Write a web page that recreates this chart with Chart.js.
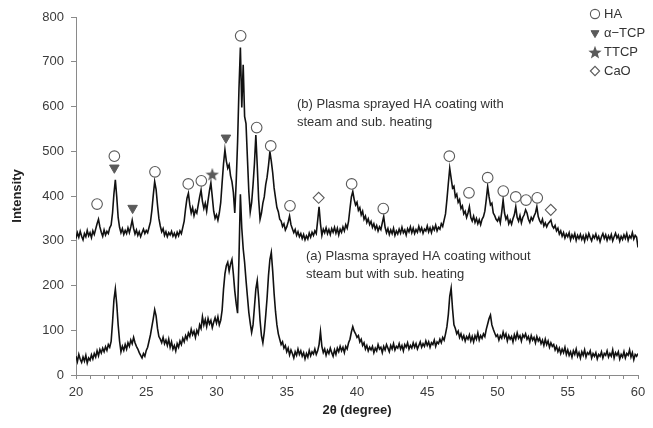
<!DOCTYPE html>
<html><head><meta charset="utf-8">
<script src="https://cdn.jsdelivr.net/npm/chart.js@4.4.1/dist/chart.umd.min.js"></script>
<style>html,body{margin:0;padding:0;background:#fff}#wrap{width:653px;height:428px}</style>
</head><body><div id="wrap"><canvas id="c" width="653" height="428"></canvas></div>
<script>
// 2θ sampling grid of both traces: 20.0 .. 60.0 degrees, 0.1 degree apart
const twoThetaStart = 20;
const twoThetaStep = 0.1;

// (b) Plasma sprayed HA coating with steam and sub. heating
const steamHeated = [
305,318,308,321,310,302,316,309,323,311, // 20
318,307,322,314,326,338,348,331,319,310, // 21
324,313,321,316,329,335,362,405,436,398, // 22
352,330,318,327,314,323,316,329,318,331, // 23
346,328,315,324,312,320,309,318,326,316, // 24
323,318,330,342,368,402,432,415,380,350, // 25
333,320,327,312,320,309,318,313,321,310, // 26
317,308,319,311,322,316,330,344,372,395, // 27
406,380,362,374,356,368,362,380,398,413, // 28
388,372,384,366,390,412,429,398,366,350, // 29
358,346,362,385,430,472,503,478,462,470, // 30
445,432,408,362,430,520,640,732,598,693, // 31
578,562,485,410,364,385,425,472,536,468, // 32
392,348,362,384,398,425,442,468,499,478, // 33
452,418,396,374,365,348,344,332,338,324, // 34
331,342,355,336,327,318,325,312,320,309, // 35
316,305,314,302,311,304,317,308,319,312, // 36
322,316,345,376,338,312,326,318,329,316, // 37
325,314,327,319,330,317,328,313,326,319, // 38
331,322,336,328,344,372,398,410,392,380, // 39
386,368,374,358,366,348,355,341,349,336, // 40
343,330,338,326,334,322,331,325,340,354, // 41
330,318,327,314,324,316,328,312,322,315, // 42
326,317,330,318,324,313,327,320,331,318, // 43
328,316,325,319,332,321,329,317,326,322, // 44
333,320,329,318,331,324,335,322,330,326, // 45
338,332,346,360,392,428,462,440,418,422, // 46
398,404,386,392,372,378,360,366,352,362, // 47
376,352,344,355,341,350,338,347,336,348, // 48
354,366,392,421,398,380,384,362,356,348, // 49
344,352,340,364,391,362,348,355,338,346, // 50
337,349,358,376,352,344,356,340,352,358, // 51
369,362,348,341,352,346,355,362,376,354, // 52
345,339,348,333,340,331,338,342,346,333, // 53
328,334,322,328,315,322,310,318,306,315, // 54
309,318,302,313,306,316,301,312,305,314, // 55
303,311,299,313,304,316,307,300,312,306, // 56
315,303,310,298,309,316,305,313,301,311, // 57
304,314,300,309,317,306,312,299,310,303, // 58
313,305,316,301,311,306,318,304,312,308, // 59
285                                      // 60
];

// (a) Plasma sprayed HA coating without steam but with sub. heating
const noSteamHeated = [
42,30,46,35,28,40,31,44,27,38,          // 20
33,45,36,48,40,54,43,57,49,60,          // 21
52,63,55,68,62,75,118,168,192,158,      // 22
112,76,52,64,55,68,58,72,64,78,         // 23
70,84,72,64,58,50,44,38,48,42,          // 24
55,62,76,90,108,126,146,132,104,86,     // 25
80,72,84,70,78,66,80,62,74,58,          // 26
66,54,70,62,76,68,82,74,88,80,          // 27
94,86,102,90,98,84,100,92,112,104,      // 28
130,112,124,108,126,114,122,106,118,128, // 29
116,130,112,122,145,192,226,244,252,232, // 30
248,258,226,188,160,138,262,404,328,282, // 31
252,212,176,140,116,95,112,152,192,211, // 32
172,122,88,72,96,132,172,222,258,274,   // 33
232,182,142,112,92,80,68,74,60,66,      // 34
52,60,45,56,48,38,52,44,58,46,          // 35
54,42,50,36,48,40,55,43,52,47,          // 36
58,46,54,68,97,64,50,58,44,55,          // 37
48,60,50,42,56,46,60,52,64,54,          // 38
62,50,64,58,72,80,96,108,98,92,         // 39
84,88,74,80,66,72,58,66,54,62,          // 40
56,64,50,60,54,68,58,62,50,64,          // 41
56,68,60,52,66,58,70,56,64,60,          // 42
70,58,66,54,68,62,72,58,66,60,          // 43
72,62,70,58,66,74,62,70,64,76,          // 44
66,74,62,72,68,78,64,74,70,80,          // 45
72,84,78,92,108,135,176,194,148,112,    // 46
104,92,98,84,92,80,88,76,86,80,         // 47
90,76,86,74,88,80,94,78,88,82,          // 48
92,86,102,114,126,134,112,102,94,86,    // 49
90,78,88,82,96,84,92,76,88,80,          // 50
86,74,90,80,94,82,88,76,90,84,          // 51
92,80,86,74,88,78,84,72,86,76,          // 52
82,70,78,66,80,68,76,62,72,64,          // 53
68,56,64,52,60,48,58,50,62,46,          // 54
56,44,52,40,54,46,58,42,50,38,          // 55
52,44,56,40,50,46,54,38,48,42,          // 56
50,36,46,42,52,38,48,44,54,40,          // 57
48,42,56,38,50,44,52,36,46,40,          // 58
52,38,48,44,56,40,50,34,46,42,          // 59
48                                      // 60
];

// phase markers (2θ, marker height)
const haAngles   = [21.5, 22.73, 25.62, 27.99, 28.92, 31.72, 32.86, 33.86, 35.23, 39.62, 41.87, 46.57, 47.97, 49.3, 50.41, 51.3, 52.03, 52.83];
const haHeights  = [382, 489, 454, 427, 434, 758, 553, 512, 378, 427, 372, 489, 407, 441, 411, 398, 391, 396];
const tcpAngles  = [22.73, 24.03, 30.67];
const tcpHeights = [463, 373, 530];
const ttcpAngles = [29.7];
const ttcpHeights= [449];
const caoAngles  = [37.27, 53.79];
const caoHeights = [396, 369];

const legendLabels = ['HA', 'α\u2212TCP', 'TTCP', 'CaO'];
const curveNotes = [
  ['(b) Plasma sprayed HA coating with', 'steam and sub. heating'],
  ['(a) Plasma sprayed HA coating without', 'steam but with sub. heating']
];
const xTitle = '2\u03B8 (degree)';
const yTitle = 'Intensity';

// ---------------------------------------------------------------
const FONT = '"Liberation Sans", Arial, Helvetica, sans-serif';
Chart.defaults.font.family = FONT;
Chart.defaults.font.size = 13;
Chart.defaults.color = '#3a3a3a';

const angleAt = i => Math.round((twoThetaStart + i * twoThetaStep) * 10) / 10;
const toXY = (xs, ys) => xs.map((x, i) => ({x, y: ys[i]}));
const curve = arr => arr.map((y, i) => ({x: angleAt(i), y}));

function makeStar(size, color) {
  const c = document.createElement('canvas');
  c.width = c.height = size;
  const g = c.getContext('2d');
  const r = size / 2, ri = r * 0.42;
  g.beginPath();
  for (let i = 0; i < 10; i++) {
    const a = -Math.PI / 2 + i * Math.PI / 5;
    const rr = i % 2 ? ri : r;
    g.lineTo(r + rr * Math.cos(a), r + 0.8 + rr * Math.sin(a));
  }
  g.closePath();
  g.fillStyle = color;
  g.fill();
  return c;
}
const MARK = '#5a5a5a';
const starImg = makeStar(14, MARK);

const markerStyles = [
  {pointStyle: 'circle', radius: 5.3, backgroundColor: '#fff', borderColor: MARK, borderWidth: 1.1, rotation: 0},
  {pointStyle: 'triangle', radius: 5.5, backgroundColor: MARK, borderColor: MARK, borderWidth: 1, rotation: 180},
  {pointStyle: starImg, radius: 7, backgroundColor: MARK, borderColor: MARK, borderWidth: 1, rotation: 0},
  {pointStyle: 'rectRot', radius: 5.5, backgroundColor: '#fff', borderColor: MARK, borderWidth: 1.1, rotation: 0}
];

function markerSet(label, xs, ys, st) {
  return {
    type: 'scatter', label, data: toXY(xs, ys), order: 0,
    pointStyle: st.pointStyle, pointRadius: st.radius, pointHoverRadius: st.radius,
    pointBackgroundColor: st.backgroundColor, pointBorderColor: st.borderColor,
    pointBorderWidth: st.borderWidth, pointRotation: st.rotation, showLine: false
  };
}

const overlay = {
  id: 'overlay',
  afterDraw(chart) {
    const ctx = chart.ctx;
    ctx.save();
    ctx.font = '13px ' + FONT;
    ctx.fillStyle = '#333';
    ctx.textAlign = 'left';
    ctx.textBaseline = 'middle';
    // curve notes
    ctx.fillText(curveNotes[0][0], 297, 104);
    ctx.fillText(curveNotes[0][1], 297, 122);
    ctx.fillText(curveNotes[1][0], 306, 256);
    ctx.fillText(curveNotes[1][1], 306, 274);
    // legend
    const ys = [14, 33, 52, 71];
    legendLabels.forEach((t, i) => {
      const st = markerStyles[i];
      ctx.fillStyle = st.backgroundColor;
      ctx.strokeStyle = st.borderColor;
      ctx.lineWidth = st.borderWidth;
      Chart.helpers.drawPoint(ctx, {pointStyle: st.pointStyle, rotation: st.rotation, radius: i === 2 ? 7 : 4.6, borderWidth: st.borderWidth}, 595, ys[i]);
      ctx.fillStyle = '#333';
      ctx.fillText(t, 604, ys[i]);
    });
    ctx.restore();
  }
};

new Chart(document.getElementById('c'), {
  type: 'line',
  data: {
    datasets: [
      markerSet('HA', haAngles, haHeights, markerStyles[0]),
      markerSet('α−TCP', tcpAngles, tcpHeights, markerStyles[1]),
      markerSet('TTCP', ttcpAngles, ttcpHeights, markerStyles[2]),
      markerSet('CaO', caoAngles, caoHeights, markerStyles[3]),
      {label: 'b', data: curve(steamHeated), borderColor: '#111', borderWidth: 1.6, pointRadius: 0, tension: 0, order: 1},
      {label: 'a', data: curve(noSteamHeated), borderColor: '#111', borderWidth: 1.6, pointRadius: 0, tension: 0, order: 1}
    ]
  },
  options: {
    responsive: false,
    animation: false,
    devicePixelRatio: 1,
    layout: {padding: {left: 0, right: 15, top: 17, bottom: 0}},
    plugins: {legend: {display: false}, tooltip: {enabled: false}},
    scales: {
      x: {
        type: 'linear', min: 20, max: 60,
        afterFit: s => { s.height = 53; },
        border: {display: true, color: '#8a8a8a', width: 1},
        grid: {display: true, drawOnChartArea: false, drawTicks: true, tickLength: 4, color: '#8a8a8a'},
        ticks: {stepSize: 1, autoSkip: false, maxRotation: 0, padding: 6, color: '#3a3a3a',
                callback: v => (v % 5 === 0 ? String(v) : '')},
        title: {display: true, text: xTitle, font: {weight: 'bold', size: 13}, color: '#222', padding: {top: 0, bottom: 10}}
      },
      y: {
        min: 0, max: 800,
        afterFit: s => { s.width = 76; },
        border: {display: true, color: '#8a8a8a', width: 1},
        grid: {display: true, drawOnChartArea: false, drawTicks: true, tickLength: 5, color: '#8a8a8a'},
        ticks: {stepSize: 100, padding: 7, color: '#3a3a3a'},
        title: {display: true, text: yTitle, font: {weight: 'bold', size: 13}, color: '#222', padding: {top: 10, bottom: 0}}
      }
    }
  },
  plugins: [overlay]
});
</script>
</body></html>
